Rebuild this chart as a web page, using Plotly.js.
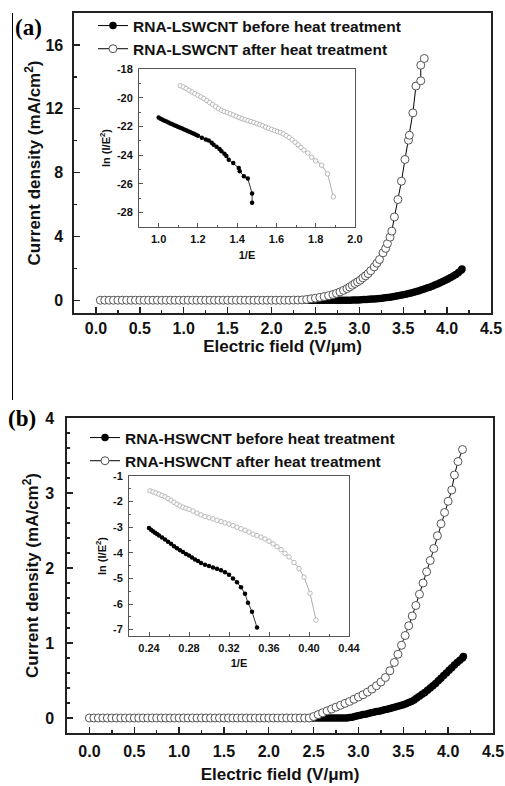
<!DOCTYPE html>
<html><head><meta charset="utf-8">
<script src="https://cdn.plot.ly/plotly-3.0.1.min.js"></script>
<style>html,body{margin:0;padding:0;background:#fff}#chart{width:505px;height:786px}</style>
</head><body><div id="chart"></div>
<script>
// ---------- Panel (a) main: RNA-LSWCNT ----------
const aBeforeX = [2.30,2.33,2.36,2.39,2.42,2.45,2.48,2.51,2.54,2.57,2.60,2.63,2.66,2.69,2.72,2.75,2.78,2.81,2.84,2.87,2.90,
  2.93,2.96,2.99,3.02,3.05,3.08,3.11,3.14,3.17,3.20,3.23,3.26,3.29,3.32,3.35,3.38,3.41,3.44,3.47,3.50,3.53,3.56,3.59,3.62,3.65,
  3.68,3.71,3.74,3.77,3.80,3.83,3.86,3.89,3.92,3.95,3.98,4.01,4.04,4.07,4.10,4.13,4.16,4.17];
const aBeforeY = [0,0,0,0,0,0,0,0,0,0,0,0,0,0,0,0,0,0,0,0,0,
  0.01,0.015,0.02,0.03,0.04,0.05,0.06,0.07,0.08,0.09,0.11,0.13,0.15,0.17,0.19,0.22,0.25,0.28,0.31,0.34,0.38,0.42,0.46,0.50,0.55,
  0.60,0.65,0.70,0.76,0.82,0.88,0.95,1.02,1.09,1.17,1.25,1.33,1.42,1.52,1.62,1.74,1.88,1.95];
const aAfterX = [0.05,0.10,0.15,0.20,0.25,0.30,0.35,0.40,0.45,0.50,0.55,0.60,0.65,0.70,0.75,0.80,0.85,0.90,0.95,1.00,
  1.05,1.10,1.15,1.20,1.25,1.30,1.35,1.40,1.45,1.50,1.55,1.60,1.65,1.70,1.75,1.80,1.85,1.90,1.95,2.00,2.05,2.10,2.15,2.20,2.25,2.30,
  2.35,2.40,2.45,2.50,2.55,2.60,2.65,2.70,2.74,2.78,2.82,2.86,2.89,2.92,2.95,2.98,3.01,3.04,3.07,3.10,3.13,3.17,3.20,3.23,3.27,
  3.30,3.32,3.35,3.37,3.40,3.44,3.48,3.52,3.56,3.57,3.61,3.645,3.70,3.70,3.74];
const aAfterY = [0,0,0,0,0,0,0,0,0,0,0,0,0,0,0,0,0,0,0,0,
  0,0,0,0,0,0,0,0,0,0,0,0,0,0,0,0,0,0,0,0,0,0,0,0,0.01,0.01,
  0.02,0.05,0.09,0.13,0.18,0.23,0.29,0.36,0.43,0.52,0.62,0.73,0.83,0.94,1.05,1.15,1.26,1.40,1.53,1.67,1.85,2.09,2.32,2.55,2.97,
  3.25,3.55,3.95,4.33,5.22,6.31,7.46,8.82,10.03,10.34,11.74,13.42,13.75,14.73,15.15];

// ---------- Panel (a) inset: ln(I/E^2) vs 1/E ----------
const aInBeforeX = [1.00,1.01,1.02,1.03,1.04,1.05,1.06,1.07,1.08,1.09,1.10,1.11,1.12,1.13,1.14,1.15,1.16,1.17,1.18,1.19,1.20,
  1.22,1.24,1.255,1.27,1.28,1.295,1.31,1.32,1.335,1.345,1.357,1.38,1.408,1.413,1.434,1.454,1.476,1.476];
const aInBeforeY = [-21.38,-21.46,-21.53,-21.60,-21.66,-21.72,-21.79,-21.85,-21.91,-21.97,-22.03,-22.09,-22.15,-22.21,-22.27,-22.33,-22.39,-22.45,-22.51,-22.58,-22.65,
  -22.78,-22.90,-22.97,-23.13,-23.27,-23.42,-23.57,-23.72,-23.90,-24.05,-24.31,-24.55,-24.89,-25.12,-25.47,-25.63,-26.67,-27.32];
const aInAfterX = [1.110,1.125,1.140,1.155,1.170,1.185,1.200,1.215,1.230,1.245,1.260,1.275,1.290,1.305,1.320,1.335,1.350,1.365,1.380,1.395,
  1.410,1.425,1.440,1.455,1.470,1.485,1.500,1.515,1.530,1.545,1.560,1.575,1.590,1.605,1.620,1.635,1.650,1.665,1.680,1.695,
  1.710,1.725,1.740,1.760,1.780,1.800,1.830,1.860,1.890];
const aInAfterY = [-19.16,-19.25,-19.36,-19.48,-19.60,-19.72,-19.83,-19.94,-20.06,-20.20,-20.34,-20.48,-20.61,-20.75,-20.87,-20.96,-21.04,-21.12,-21.20,-21.29,
  -21.38,-21.46,-21.53,-21.60,-21.66,-21.72,-21.80,-21.87,-21.95,-22.04,-22.13,-22.21,-22.28,-22.35,-22.42,-22.52,-22.64,-22.77,-22.93,-23.10,
  -23.28,-23.46,-23.64,-23.85,-24.15,-24.40,-24.70,-25.30,-26.90];
const aInYTicks = [-28,-26,-24,-22,-20,-18];
const aInYLabels = ['-28','-26','-24','-22','-20','-18'];

// ---------- Panel (b) main: RNA-HSWCNT ----------
const bBeforeX = [2.45,2.48,2.51,2.54,2.57,2.60,2.63,2.66,2.69,2.72,2.75,2.78,2.81,2.84,2.87,
  2.90,2.93,2.96,2.99,3.02,3.05,3.08,3.11,3.14,3.17,3.20,3.23,3.26,3.29,3.32,3.35,3.38,3.41,3.44,3.47,3.50,3.53,3.56,3.59,3.62,
  3.65,3.68,3.71,3.74,3.77,3.80,3.83,3.86,3.89,3.92,3.95,3.98,4.01,4.04,4.07,4.10,4.13,4.16,4.17];
const bBeforeY = [0,0,0,0,0,0,0,0,0,0,0,0,0,0,0,
  0.005,0.01,0.02,0.03,0.035,0.045,0.05,0.06,0.07,0.075,0.085,0.09,0.10,0.11,0.115,0.125,0.135,0.145,0.155,0.165,0.175,0.19,0.205,0.22,0.24,
  0.265,0.29,0.315,0.34,0.37,0.40,0.43,0.46,0.495,0.53,0.565,0.60,0.635,0.67,0.705,0.74,0.77,0.80,0.82];
const bAfterX = [0.00,0.05,0.10,0.15,0.20,0.25,0.30,0.35,0.40,0.45,0.50,0.55,0.60,0.65,0.70,0.75,0.80,0.85,0.90,0.95,
  1.00,1.05,1.10,1.15,1.20,1.25,1.30,1.35,1.40,1.45,1.50,1.55,1.60,1.65,1.70,1.75,1.80,1.85,1.90,1.95,
  2.00,2.05,2.10,2.15,2.20,2.25,2.30,2.35,2.40,2.45,
  2.50,2.55,2.60,2.65,2.70,2.75,2.80,2.85,2.90,2.95,3.00,3.05,3.10,3.15,3.20,3.25,3.30,3.35,3.40,3.44,3.48,3.52,3.56,3.60,
  3.64,3.68,3.72,3.76,3.80,3.84,3.88,3.92,3.96,4.00,4.04,4.07,4.11,4.16];
const bAfterY = [0,0,0,0,0,0,0,0,0,0,0,0,0,0,0,0,0,0,0,0,
  0,0,0,0,0,0,0,0,0,0,0,0,0,0,0,0,0,0,0,0,
  0,0,0,0,0,0,0,0,0,0,
  0.02,0.045,0.07,0.095,0.12,0.145,0.17,0.195,0.22,0.25,0.28,0.31,0.345,0.385,0.43,0.48,0.54,0.63,0.74,0.85,0.97,1.10,1.23,1.36,
  1.50,1.65,1.80,1.95,2.10,2.26,2.43,2.59,2.74,2.89,3.04,3.24,3.42,3.58];

// ---------- Panel (b) inset ----------
const bInBeforeX = [0.240,0.242,0.244,0.246,0.248,0.250,0.253,0.256,0.259,0.262,0.265,0.268,0.271,0.274,0.277,0.280,0.283,0.286,0.289,0.292,
  0.296,0.300,0.304,0.308,0.312,0.316,0.320,0.324,0.328,0.332,0.336,0.339,0.343,0.348];
const bInBeforeY = [-3.03,-3.10,-3.16,-3.22,-3.27,-3.32,-3.40,-3.48,-3.57,-3.65,-3.74,-3.82,-3.90,-3.97,-4.05,-4.11,-4.18,-4.26,-4.32,-4.40,
  -4.47,-4.52,-4.57,-4.62,-4.68,-4.76,-4.86,-5.00,-5.15,-5.35,-5.60,-5.95,-6.30,-6.92];
const bInAfterX = [0.241,0.244,0.247,0.250,0.253,0.256,0.259,0.262,0.265,0.268,0.271,0.274,0.277,0.280,
  0.284,0.288,0.292,0.296,0.300,0.304,0.308,0.312,0.316,0.320,0.324,0.328,0.332,0.336,0.340,0.344,0.348,0.352,0.356,0.360,0.364,0.368,0.372,0.376,0.380,
  0.385,0.390,0.395,0.401,0.407];
const bInAfterY = [-1.58,-1.62,-1.66,-1.71,-1.76,-1.81,-1.88,-1.95,-2.03,-2.10,-2.17,-2.22,-2.26,-2.30,
  -2.37,-2.45,-2.52,-2.58,-2.63,-2.68,-2.73,-2.78,-2.83,-2.88,-2.94,-3.00,-3.06,-3.12,-3.19,-3.27,-3.33,-3.39,-3.46,-3.55,-3.65,-3.76,-3.88,-4.02,-4.16,
  -4.38,-4.62,-4.95,-5.58,-6.63];
const bInYTicks = [-7,-6,-5,-4,-3,-2,-1];
const bInYLabels = ['-7','-6','-5','-4','-3','-2','-1'];

const seriesNames = ['RNA-LSWCNT before heat treatment','RNA-LSWCNT after heat treatment',
                     'RNA-HSWCNT before heat treatment','RNA-HSWCNT after heat treatment'];

// ---------- styling ----------
const FONT = 'Liberation Sans, Arial, sans-serif';
const W = 505, H = 786;
const px = v => v / W;
const py = v => 1 - v / H;

const filledMain = {symbol:'circle', size:7.5, color:'#000'};
const openMain = {symbol:'circle', size:8, color:'#fff', line:{color:'#555', width:1}};
const filledIn = {symbol:'circle', size:4.5, color:'#000'};
const openIn = {symbol:'circle', size:4.5, color:'#fff', line:{color:'#aaa', width:0.8}};

const data = [
  {x:aBeforeX, y:aBeforeY, xaxis:'x', yaxis:'y', mode:'lines+markers', name:seriesNames[0], legend:'legend',
   line:{color:'#000', width:1}, marker:filledMain},
  {x:aAfterX, y:aAfterY, xaxis:'x', yaxis:'y', mode:'lines+markers', name:seriesNames[1], legend:'legend',
   line:{color:'#000', width:1}, marker:openMain},
  {x:aInBeforeX, y:aInBeforeY, xaxis:'x2', yaxis:'y2', mode:'lines+markers', showlegend:false,
   line:{color:'#000', width:0.8}, marker:filledIn},
  {x:aInAfterX, y:aInAfterY, xaxis:'x2', yaxis:'y2', mode:'lines+markers', showlegend:false,
   line:{color:'#999', width:0.8}, marker:openIn},
  {x:bBeforeX, y:bBeforeY, xaxis:'x3', yaxis:'y3', mode:'lines+markers', name:seriesNames[2], legend:'legend2',
   line:{color:'#000', width:1}, marker:filledMain},
  {x:bAfterX, y:bAfterY, xaxis:'x3', yaxis:'y3', mode:'lines+markers', name:seriesNames[3], legend:'legend2',
   line:{color:'#000', width:1}, marker:openMain},
  {x:bInBeforeX, y:bInBeforeY, xaxis:'x4', yaxis:'y4', mode:'lines+markers', showlegend:false,
   line:{color:'#000', width:0.8}, marker:filledIn},
  {x:bInAfterX, y:bInAfterY, xaxis:'x4', yaxis:'y4', mode:'lines+markers', showlegend:false,
   line:{color:'#999', width:0.8}, marker:openIn}
];

function mainAx(o) {
  return Object.assign({
    showgrid:false, zeroline:false, showline:true, mirror:true, linecolor:'#222', linewidth:1.6,
    ticks:'inside', ticklen:6, tickwidth:1.4, tickcolor:'#222',
    tickfont:{family:FONT, size:16, color:'#111', weight:'bold'},
    fixedrange:true, automargin:false
  }, o);
}
function inAx(o) {
  return Object.assign({
    showgrid:false, zeroline:false, showline:true, mirror:true, linecolor:'#555', linewidth:1,
    ticks:'inside', ticklen:4, tickwidth:1, tickcolor:'#555',
    tickfont:{family:FONT, size:11, color:'#111', weight:'bold'},
    fixedrange:true, automargin:false
  }, o);
}
const mainTitleFont = {family:FONT, size:17, color:'#111', weight:'bold'};
const inTitleFont = {family:FONT, size:11, color:'#111', weight:'bold'};
const legendFont = {family:FONT, size:15.5, color:'#111', weight:'bold'};

const layout = {
  width:W, height:H, margin:{l:0, r:0, t:0, b:0},
  paper_bgcolor:'#fff', plot_bgcolor:'rgba(0,0,0,0)', showlegend:true,
  xaxis: mainAx({domain:[px(74), px(491)], anchor:'y', range:[-0.25,4.5], tick0:0, dtick:0.5, tickformat:'.1f',
    minor:{dtick:0.25, tick0:0, ticks:'inside', ticklen:3, tickcolor:'#222'},
    ticklabelstandoff:0,
    title:{text:'Electric field (V/\u03bcm)', font:mainTitleFont, standoff:2}}),
  yaxis: mainAx({domain:[py(313), py(13)], anchor:'x', range:[-0.8,18], tick0:0, dtick:4,
    minor:{dtick:2, tick0:0, ticks:'inside', ticklen:3, tickcolor:'#222'},
    ticklabelstandoff:6,
    title:{text:'Current density (mA/cm<sup>2</sup>)', font:mainTitleFont, standoff:0}}),
  xaxis2: inAx({domain:[px(139), px(355)], anchor:'y2', range:[0.9,2.0], tick0:0, dtick:0.2, tickformat:'.1f',
    minor:{dtick:0.1, tick0:0, ticks:'inside', ticklen:2, tickcolor:'#555'},
    ticklabelstandoff:2,
    title:{text:'1/E', font:inTitleFont, standoff:7}}),
  yaxis2: inAx({domain:[py(227), py(69)], anchor:'x2', range:[-29,-18], tickmode:'array', tickvals:aInYTicks, ticktext:aInYLabels,
    minor:{dtick:1, tick0:0, ticks:'inside', ticklen:2, tickcolor:'#555'},
    ticklabelstandoff:3,
    title:{text:'ln (I/E<sup>2</sup>)', font:inTitleFont, standoff:4}}),
  xaxis3: mainAx({domain:[px(67), px(493)], anchor:'y3', range:[-0.25,4.5], tick0:0, dtick:0.5, tickformat:'.1f',
    minor:{dtick:0.25, tick0:0, ticks:'inside', ticklen:3, tickcolor:'#222'},
    ticklabelstandoff:3,
    title:{text:'Electric field (V/\u03bcm)', font:mainTitleFont, standoff:9}}),
  yaxis3: mainAx({domain:[py(733), py(418)], anchor:'x3', range:[-0.2,4.0], tick0:0, dtick:1,
    minor:{dtick:0.2, tick0:0, ticks:'inside', ticklen:3, tickcolor:'#222'},
    ticklabelstandoff:8,
    title:{text:'Current density (mA/cm<sup>2</sup>)', font:mainTitleFont, standoff:2}}),
  xaxis4: inAx({domain:[px(129), px(349)], anchor:'y4', range:[0.22,0.44], tick0:0, dtick:0.04, tickformat:'.2f',
    minor:{dtick:0.02, tick0:0, ticks:'inside', ticklen:2, tickcolor:'#555'},
    ticklabelstandoff:2,
    title:{text:'1/E', font:inTitleFont, standoff:6}}),
  yaxis4: inAx({domain:[py(636), py(476)], anchor:'x4', range:[-7.25,-1], tickmode:'array', tickvals:bInYTicks, ticktext:bInYLabels,
    minor:{dtick:0.5, tick0:0, ticks:'inside', ticklen:2, tickcolor:'#555'},
    ticklabelstandoff:3,
    title:{text:'ln (I/E<sup>2</sup>)', font:inTitleFont, standoff:4}}),
  legend: {x:px(93), y:py(9), xanchor:'left', yanchor:'top', bgcolor:'rgba(0,0,0,0)', borderwidth:0,
    font:legendFont, tracegroupgap:0, itemwidth:30},
  legend2: {x:px(85), y:py(421), xanchor:'left', yanchor:'top', bgcolor:'rgba(0,0,0,0)', borderwidth:0,
    font:legendFont, tracegroupgap:0, itemwidth:30},
  annotations: [
    {text:'<b>(a)</b>', xref:'paper', yref:'paper', x:px(13), y:py(27), xanchor:'left', yanchor:'middle', showarrow:false,
     font:{family:'Liberation Serif, Times New Roman, serif', size:23, color:'#000'}},
    {text:'<b>(b)</b>', xref:'paper', yref:'paper', x:px(6), y:py(418), xanchor:'left', yanchor:'middle', showarrow:false,
     font:{family:'Liberation Serif, Times New Roman, serif', size:23, color:'#000'}}
  ],
  shapes: [
    {type:'line', xref:'paper', yref:'paper', x0:px(12.5), x1:px(12.5), y0:py(13), y1:py(400), line:{color:'#000', width:1}}
  ]
};

Plotly.newPlot('chart', data, layout, {displayModeBar:false, staticPlot:true});
</script>
</body></html>
